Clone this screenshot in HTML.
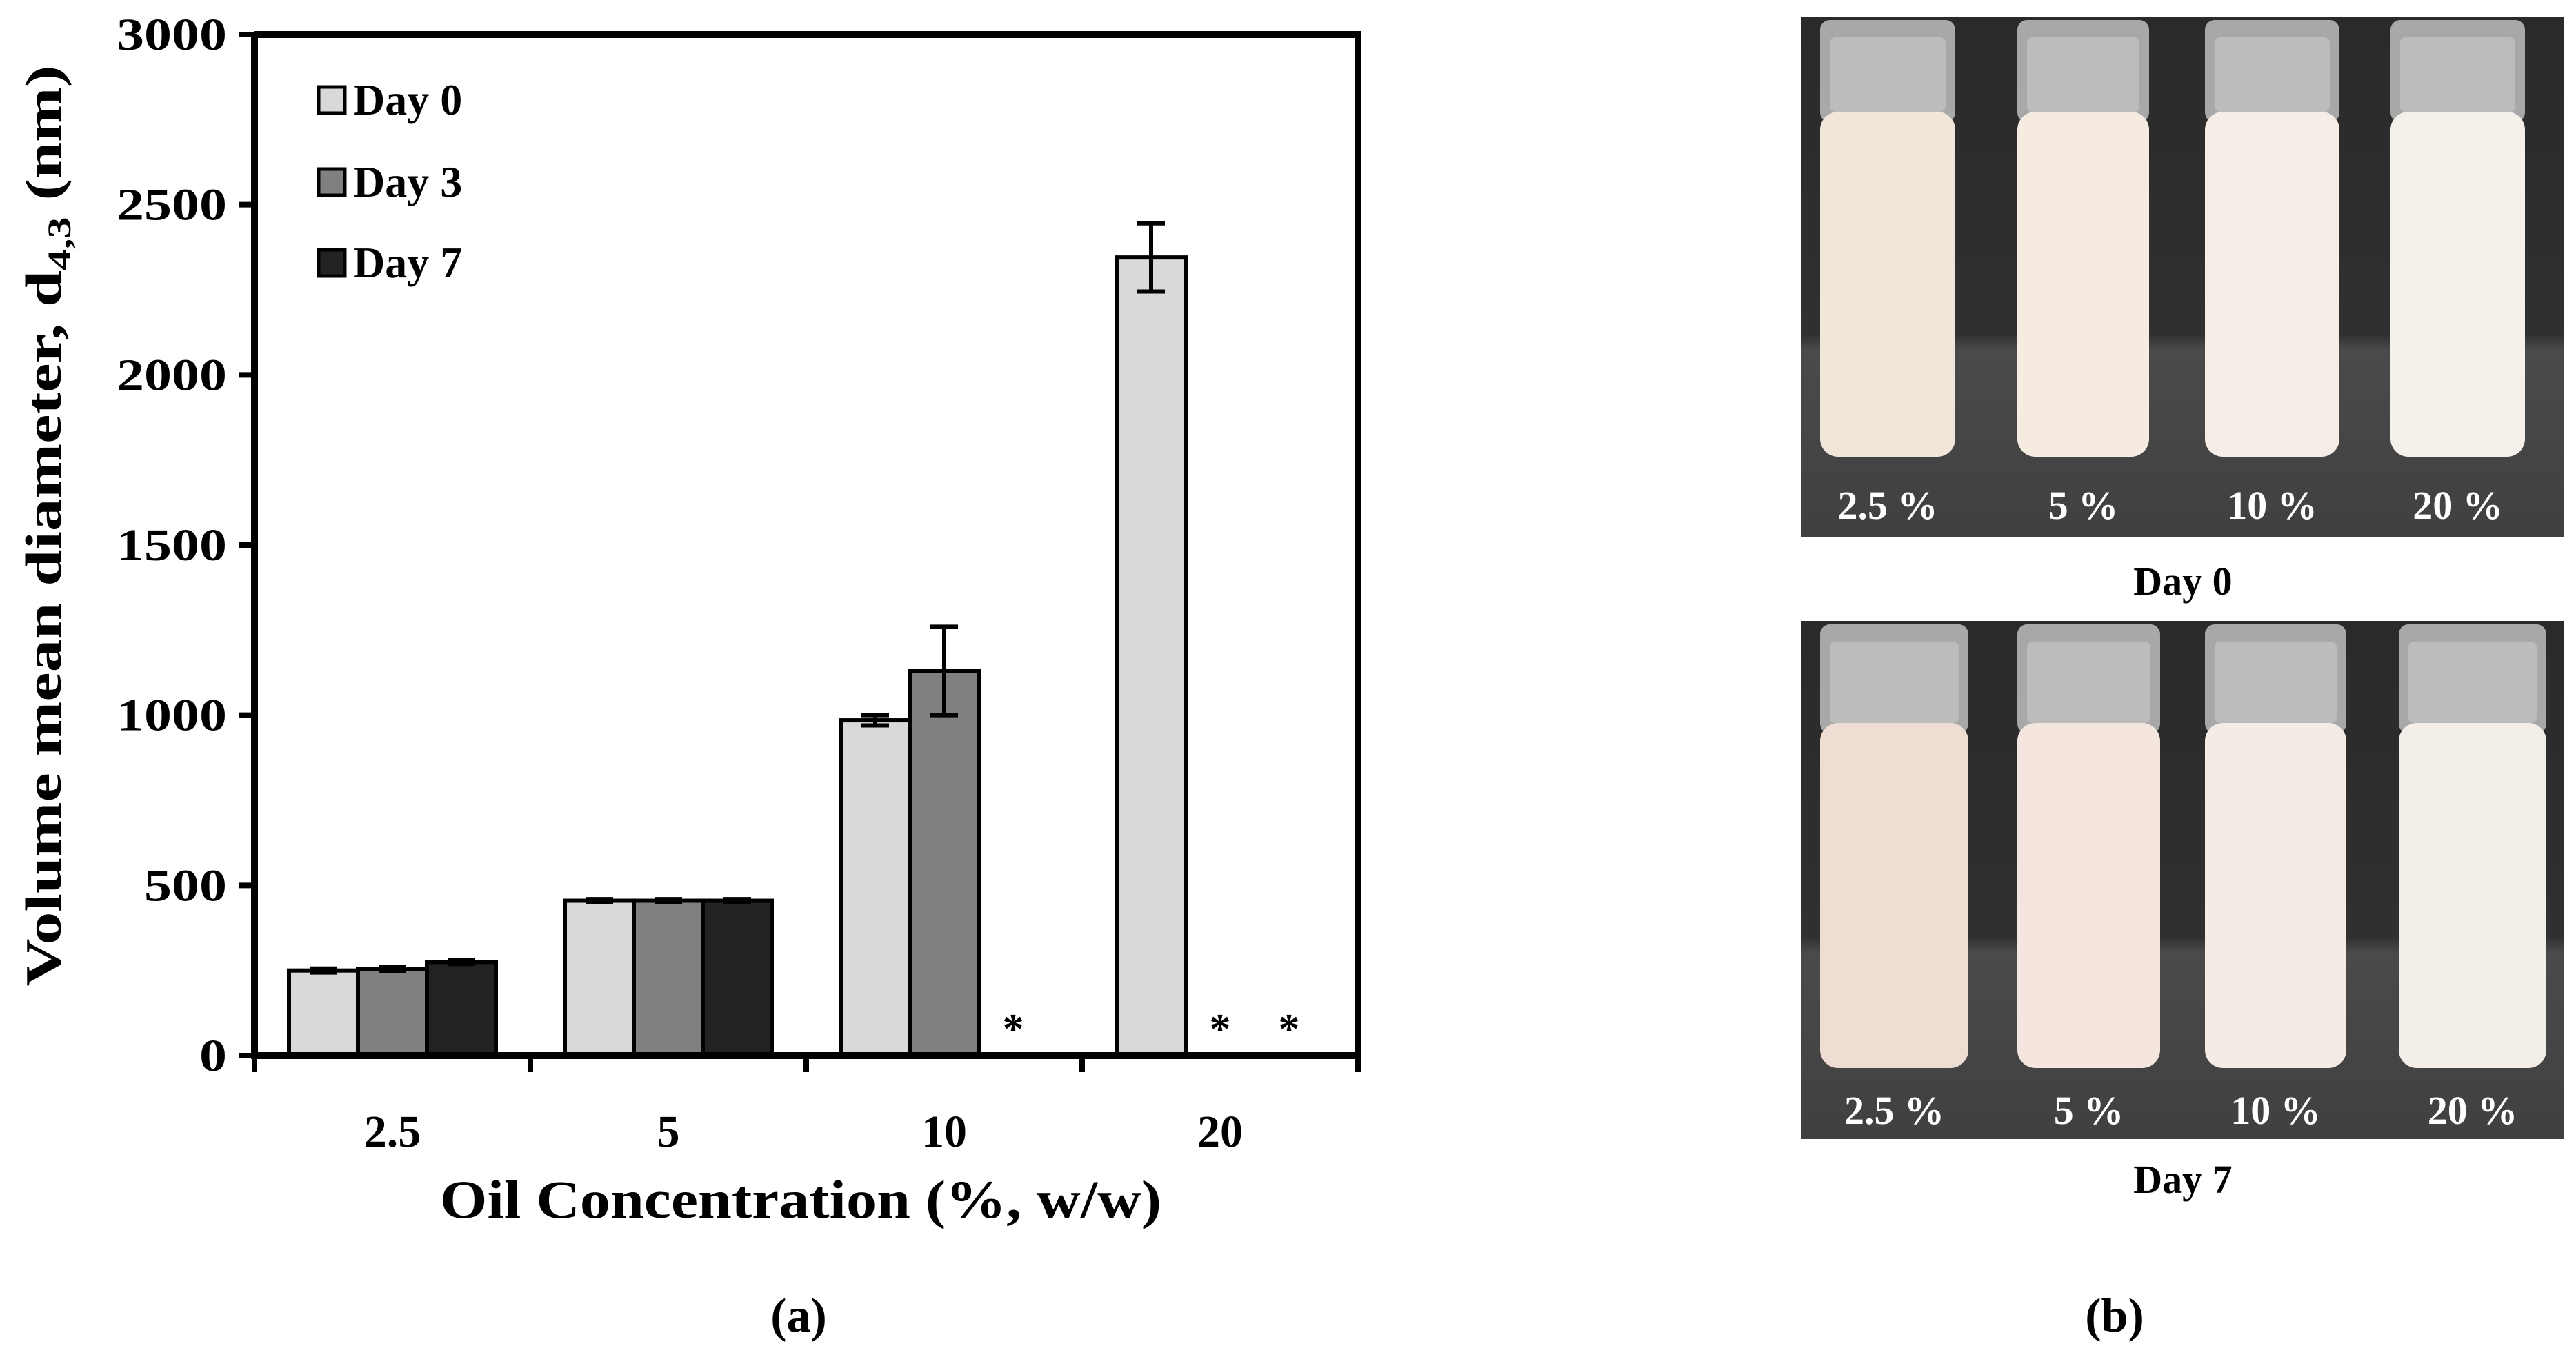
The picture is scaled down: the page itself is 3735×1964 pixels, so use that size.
<!DOCTYPE html>
<html><head><meta charset="utf-8"><style>
html,body{margin:0;padding:0;background:#fff;}
svg{display:block;}
text{font-family:"Liberation Serif",serif;font-weight:bold;}
</style></head>
<body>
<svg id="fig" width="3735" height="1964" viewBox="0 0 3735 1964" xmlns="http://www.w3.org/2000/svg">
<g id="chart"></g>
<g id="photos"></g>
</svg>
<script>
const categories = ["2.5", "5", "10", "20"];
const seriesNames = ["Day 0", "Day 3", "Day 7"];
const day0 = [250, 455, 985, 2345];
const day3 = [255, 455, 1130, null];
const day7 = [275, 455, null, null];
const err0 = [6, 5, 15, 100];
const err3 = [6, 5, 130, null];
const err7 = [6, 5, null, null];
const yTicks = [0, 500, 1000, 1500, 2000, 2500, 3000];

const NS = "http://www.w3.org/2000/svg";
function mk(tag, attrs, parent, txt){
  const e = document.createElementNS(NS, tag);
  for (const k in attrs) e.setAttribute(k, attrs[k]);
  if (txt !== undefined) e.textContent = txt;
  parent.appendChild(e);
  return e;
}
const chart = document.getElementById('chart');
const L = 369, R = 1969, T = 50, B = 1530, yMax = 3000;
const y = v => B - (v / yMax) * (B - T);
const groupW = (R - L) / categories.length;
const barW = 100;
const xBar = (gi, si) => L + gi * groupW + (groupW - 3 * barW) / 2 + si * barW;
const fills = ["#d9d9d9", "#808080", "#222222"];
const series = [day0, day3, day7];
const errs = [err0, err3, err7];

series.forEach((vals, si) => {
  vals.forEach((v, gi) => {
    const x0 = xBar(gi, si);
    if (v === null) {
      const t = mk('text', {x: x0 + barW / 2, y: B - 18, 'text-anchor': 'middle', 'font-size': 62}, chart, '*');
      
      
      return;
    }
    const r = mk('rect', {x: x0, y: y(v), width: barW, height: B - y(v), fill: fills[si], stroke: '#000', 'stroke-width': 6}, chart);
    
    
    const e = errs[si][gi];
    if (e !== null) {
      const cx = x0 + barW / 2;
      const g = mk('g', {stroke: '#000', 'stroke-width': 6}, chart);
      
      
      mk('line', {x1: cx, x2: cx, y1: y(v + e), y2: y(v - e)}, g);
      mk('line', {x1: cx - 20, x2: cx + 20, y1: y(v + e), y2: y(v + e)}, g);
      mk('line', {x1: cx - 20, x2: cx + 20, y1: y(v - e), y2: y(v - e)}, g);
    }
  });
});

const frame = mk('path', {d: `M${L},${T} H${R} V${B} M${L},${T} V${B} H${R}`, fill: 'none', stroke: '#000', 'stroke-width': 10}, chart);



yTicks.forEach(v => {
  mk('line', {x1: L - 22, x2: L, y1: y(v), y2: y(v), stroke: '#000', 'stroke-width': 8}, chart);
  const t = mk('text', {x: L - 40, y: y(v) + 22, 'text-anchor': 'end', 'font-size': 66, textLength: 40 * String(v).length, lengthAdjust: 'spacingAndGlyphs'}, chart, String(v));
  
  
});
for (let i = 0; i <= categories.length; i++) {
  const x = L + i * groupW;
  mk('line', {x1: x, x2: x, y1: B, y2: B + 24, stroke: '#000', 'stroke-width': 8}, chart);
}
categories.forEach((c, gi) => {
  const t = mk('text', {x: L + gi * groupW + groupW / 2, y: 1662, 'text-anchor': 'middle', 'font-size': 66}, chart, c);
  
  
});

const yt = mk('text', {transform: 'translate(88,762) rotate(-90)', 'text-anchor': 'middle', 'font-size': 74, textLength: 1335, lengthAdjust: 'spacingAndGlyphs'}, chart);


yt.appendChild(document.createTextNode('Volume mean diameter, d'));
mk('tspan', {'font-size': 48, dy: 14}, yt, '4,3');
mk('tspan', {dy: -14}, yt, ' (nm)');

const xt = mk('text', {x: 1161, y: 1765, 'text-anchor': 'middle', 'font-size': 78, textLength: 1046, lengthAdjust: 'spacingAndGlyphs'}, chart, 'Oil Concentration (%, w/w)');



const legY = [145, 264, 381];
seriesNames.forEach((n, i) => {
  const g = mk('g', {}, chart);
  
  
  mk('rect', {x: 462, y: legY[i] - 19, width: 38, height: 38, fill: fills[i], stroke: '#000', 'stroke-width': 5}, g);
  mk('text', {x: 512, y: legY[i] + 21, 'font-size': 64}, g, n);
});

const pa = mk('text', {x: 1158, y: 1930, 'text-anchor': 'middle', 'font-size': 70, 'font-weight': 'normal'}, chart);


pa.appendChild(document.createTextNode('('));
mk('tspan', {'font-weight': 'bold'}, pa, 'a');
pa.appendChild(document.createTextNode(')'));

// Photo panel
const photos = document.getElementById('photos');
const defs = mk('defs', {}, photos);
const bgG = mk('linearGradient', {id: 'bg', x1: 0, y1: 0, x2: 0, y2: 1}, defs);
mk('stop', {offset: '0', 'stop-color': '#2a2a2a'}, bgG);
mk('stop', {offset: '0.61', 'stop-color': '#303030'}, bgG);
mk('stop', {offset: '0.64', 'stop-color': '#4a4a4a'}, bgG);
mk('stop', {offset: '1', 'stop-color': '#404040'}, bgG);
const labels = ["2.5 %", "5 %", "10 %", "20 %"];
const panels = [
  {top: 24, bot: 779, cap: 'Day 0', capY: 862, vx: [[2639,2835],[2925,3116],[3197,3392],[3466,3661]], lq: 162, lb: 662, ly: 752, col: ['#f1e6da','#f5ebe0','#f6eee6','#f6f0ea']},
  {top: 900, bot: 1651, cap: 'Day 7', capY: 1729, vx: [[2639,2854],[2925,3132],[3197,3402],[3478,3692]], lq: 1048, lb: 1548, ly: 1629, col: ['#eeddd2','#f4e6de','#f5ebe5','#f4eee9']}
];
panels.forEach((p, pi) => {
  const g = mk('g', {}, photos);
  
  
  mk('rect', {x: 2611, y: p.top, width: 1107, height: p.bot - p.top, fill: 'url(#bg)'}, g);
  p.vx.forEach((v, i) => {
    const w = v[1] - v[0];
    mk('rect', {x: v[0], y: p.top + 5, width: w, height: p.lq - p.top + 10, rx: 14, fill: '#a8a8a8'}, g);
    mk('rect', {x: v[0] + 14, y: p.top + 30, width: w - 28, height: p.lq - p.top - 30, rx: 8, fill: '#c4c4c4', opacity: 0.7}, g);
    mk('rect', {x: v[0], y: p.lq, width: w, height: p.lb - p.lq, rx: 26, fill: p.col[i]}, g);
    const t = mk('text', {x: (v[0] + v[1]) / 2, y: p.ly, 'text-anchor': 'middle', 'font-size': 58, fill: '#fff'}, g, labels[i]);
    
    
  });
  const c = mk('text', {x: 3165, y: p.capY, 'text-anchor': 'middle', 'font-size': 58}, photos, p.cap);
  
  
});
const pb = mk('text', {x: 3066, y: 1930, 'text-anchor': 'middle', 'font-size': 70, 'font-weight': 'normal'}, photos);


pb.appendChild(document.createTextNode('('));
mk('tspan', {'font-weight': 'bold'}, pb, 'b');
pb.appendChild(document.createTextNode(')'));
</script>
</body></html>
